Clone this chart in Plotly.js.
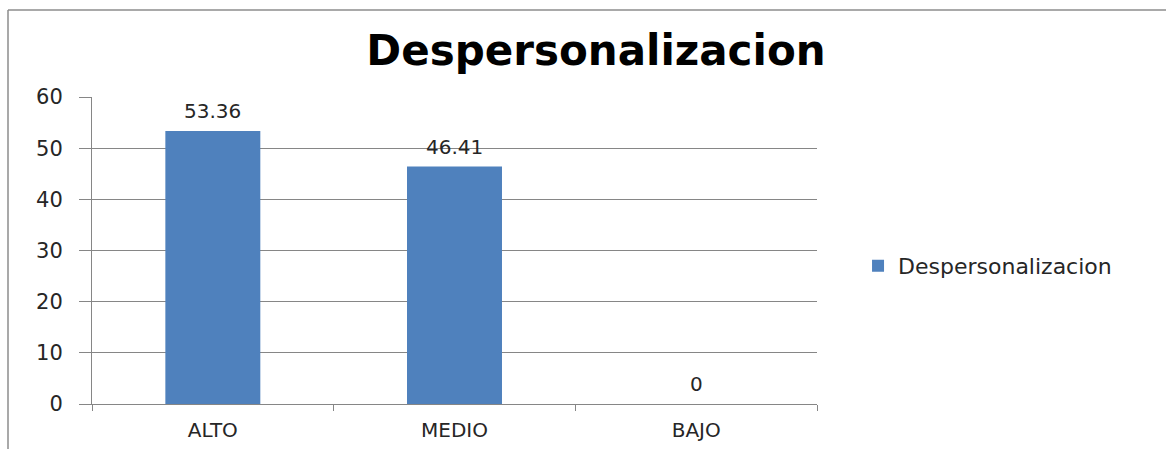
<!DOCTYPE html>
<html>
<head>
<meta charset="utf-8">
<script src="https://cdn.plot.ly/plotly-3.0.1.min.js"></script>
<style>
  html, body { margin: 0; padding: 0; background: #ffffff; }
  #chart { width: 1166px; height: 449px; }
</style>
</head>
<body>
<div id="chart"></div>
<script>
const categories = ["ALTO", "MEDIO", "BAJO"];
const values = [53.36, 46.41, 0];
const valueLabels = ["53.36", "46.41", "0"];
const seriesName = "Despersonalizacion";
const chartTitle = "Despersonalizacion";
const yTicks = [0, 10, 20, 30, 40, 50, 60];

const FONT = "DejaVu Sans, Liberation Sans, sans-serif";

const trace = {
  type: "bar",
  x: categories,
  y: values,
  name: seriesName,
  marker: { color: "#4F81BD" },
  showlegend: true,
  hoverinfo: "skip"
};

const annotations = categories.map((c, i) => ({
  x: c, y: values[i], xref: "x", yref: "y",
  text: valueLabels[i], showarrow: false,
  yanchor: "middle", yshift: 20,
  font: { family: FONT, size: 20, color: "#262626" }
}));

const layout = {
  width: 1166, height: 449,
  margin: { l: 92, r: 349, t: 97, b: 45 },
  paper_bgcolor: "#ffffff",
  plot_bgcolor: "#ffffff",
  title: {
    text: "<b>" + chartTitle + "</b>",
    font: { family: FONT, size: 42, color: "#000000" },
    x: 596 / 1166, xanchor: "center", xref: "container",
    y: 1 - 50 / 449, yanchor: "middle", yref: "container"
  },
  bargap: 0.607,
  xaxis: {
    type: "category",
    showgrid: false,
    showline: true, linecolor: "#868686", linewidth: 1,
    ticks: "outside", tickson: "boundaries", ticklen: 6, tickcolor: "#868686",
    tickfont: { family: FONT, size: 20, color: "#262626" },
    ticklabelstandoff: 8,
    zeroline: false
  },
  yaxis: {
    range: [0, 60],
    tickvals: yTicks,
    ticktext: yTicks.map(String),
    showgrid: true, gridcolor: "#868686", gridwidth: 1,
    showline: true, linecolor: "#868686", linewidth: 1,
    ticks: "outside", ticklen: 12, tickcolor: "#868686",
    tickfont: { family: FONT, size: 21, color: "#262626" },
    ticklabelstandoff: 12,
    zeroline: false
  },
  legend: {
    x: 1.0566, xanchor: "left",
    y: 0.45, yanchor: "middle",
    font: { family: FONT, size: 22, color: "#262626" },
    bgcolor: "rgba(0,0,0,0)"
  },
  shapes: [
    { type: "line", xref: "paper", yref: "paper",
      x0: (8 - 92) / 725, x1: 2, y0: 1 + (97 - 10) / 307, y1: 1 + (97 - 10) / 307,
      line: { color: "#8c8c8c", width: 1.5 } },
    { type: "line", xref: "paper", yref: "paper",
      x0: (8 - 92) / 725, x1: (8 - 92) / 725, y0: -1, y1: 1 + (97 - 10) / 307,
      line: { color: "#8c8c8c", width: 1.5 } }
  ],
  annotations: annotations
};

Plotly.newPlot("chart", [trace], layout, { displayModeBar: false, staticPlot: true });
</script>
</body>
</html>
